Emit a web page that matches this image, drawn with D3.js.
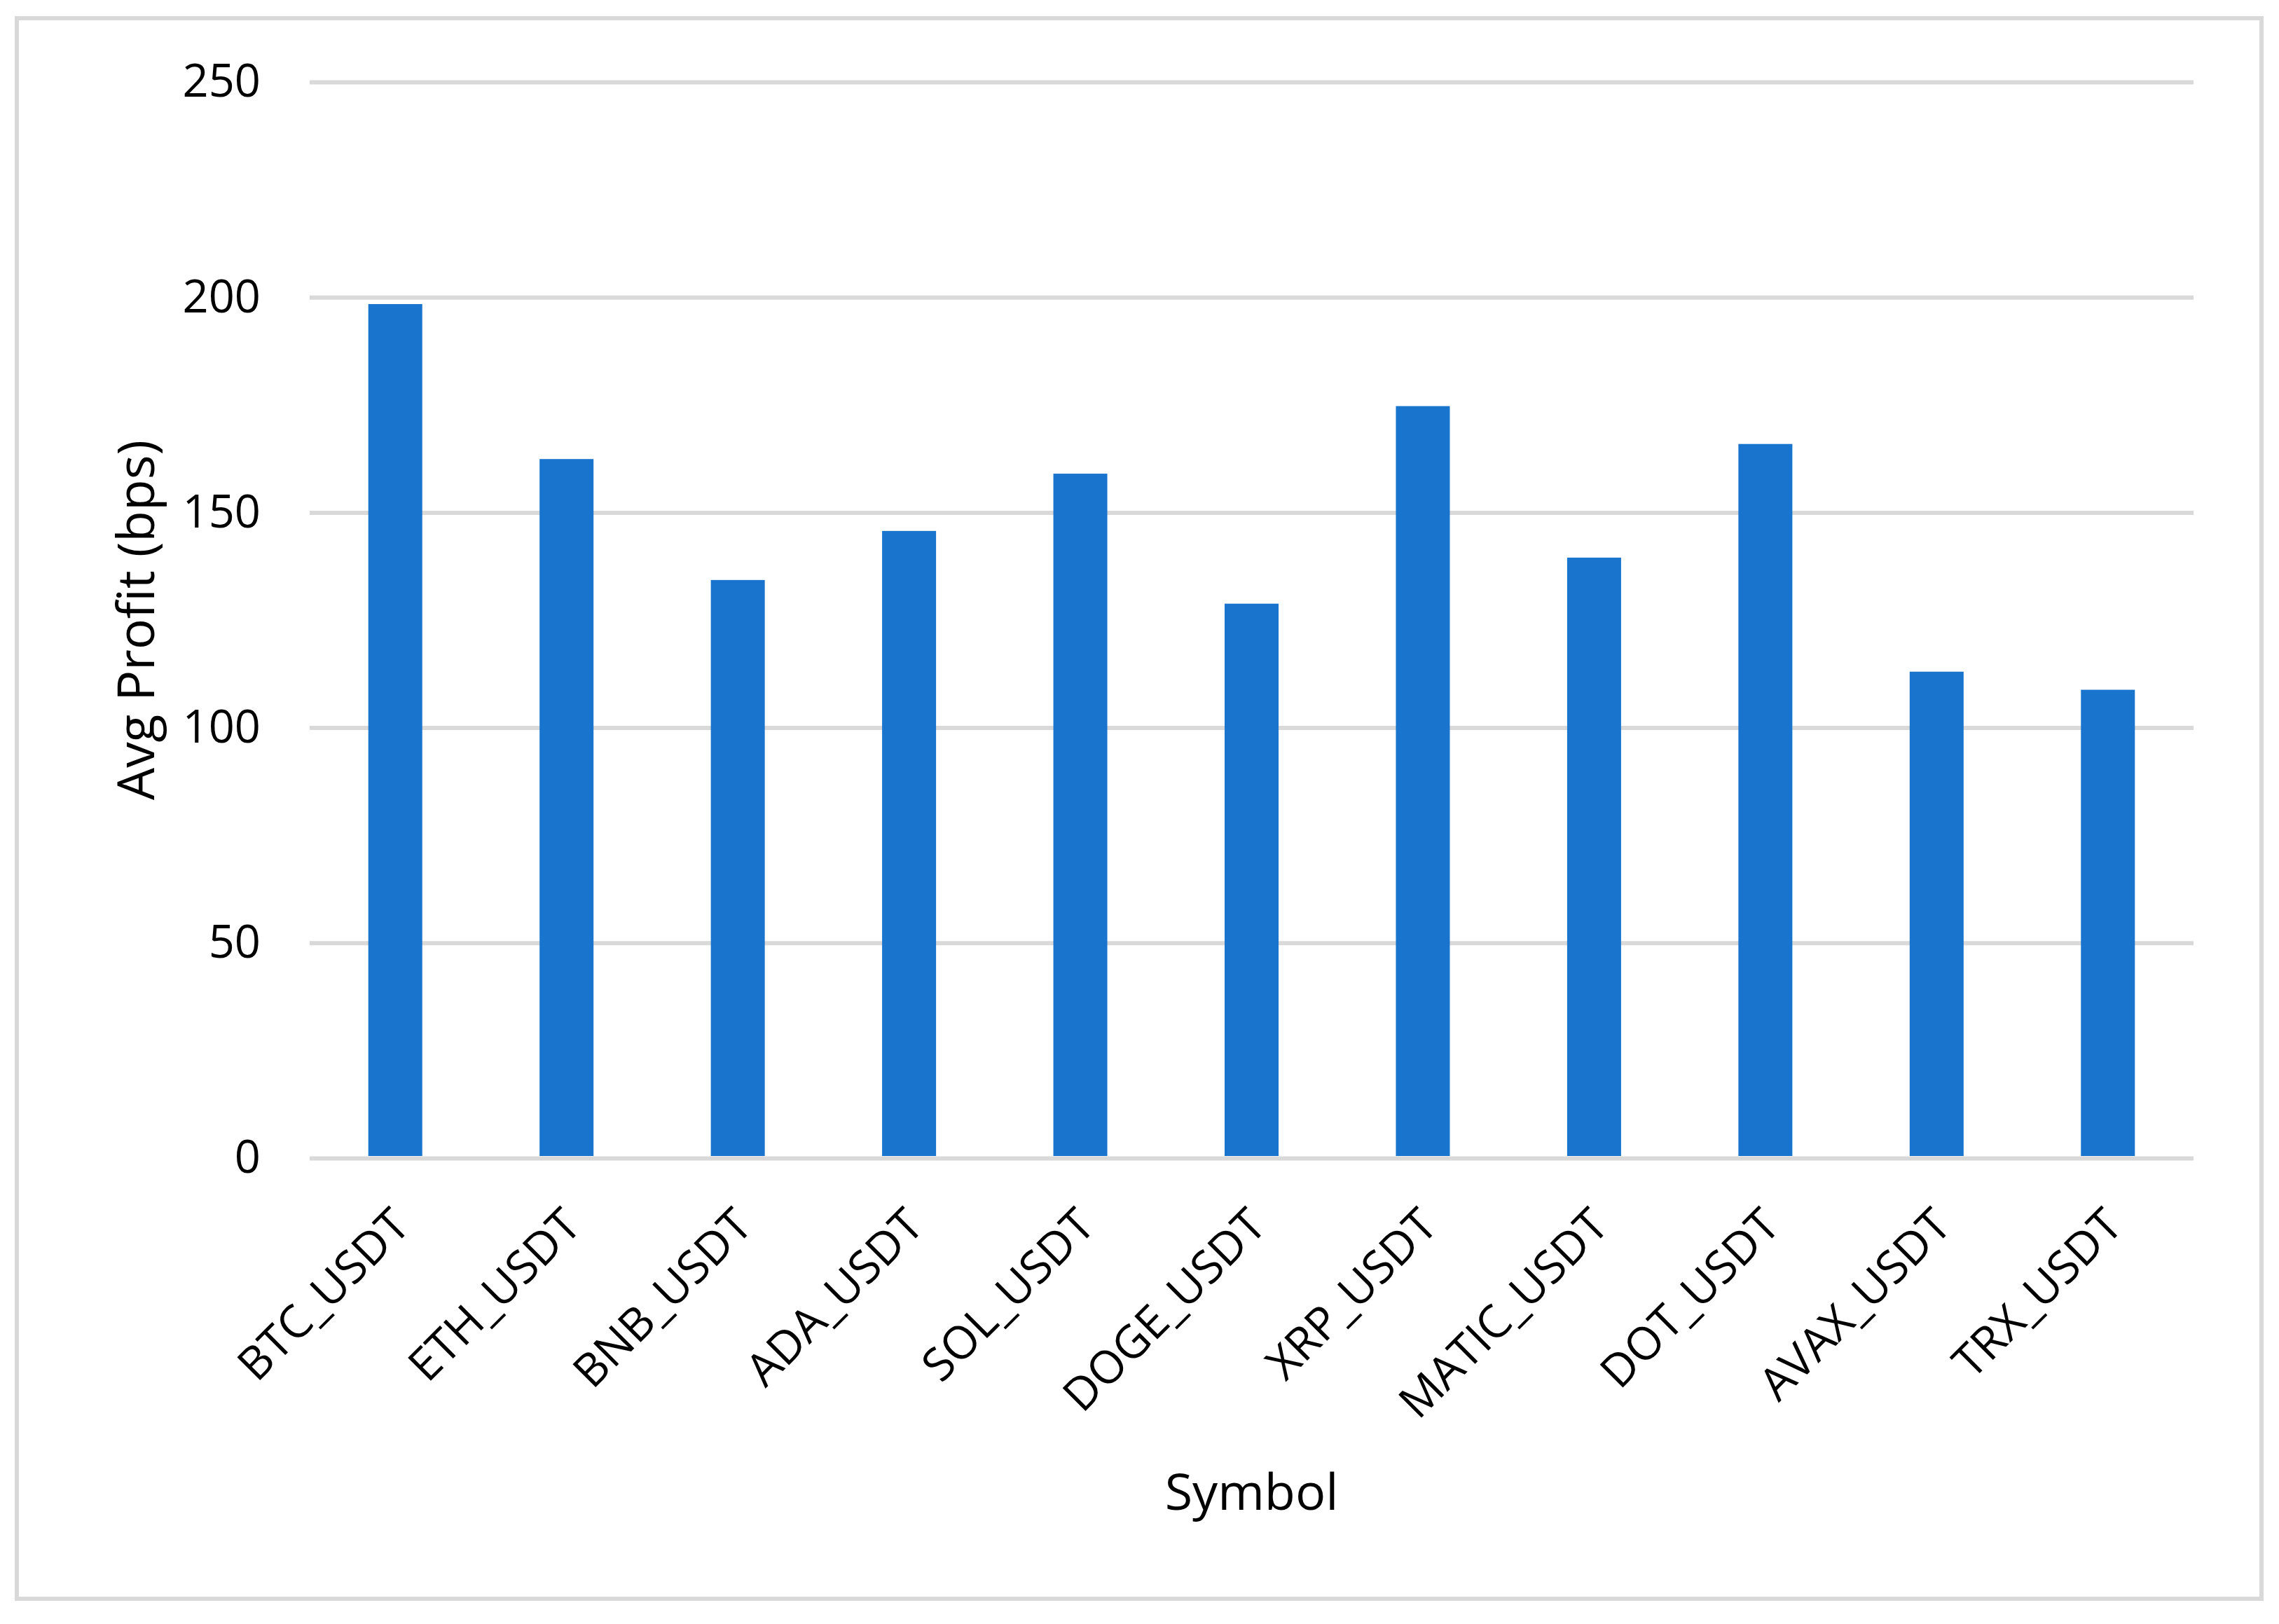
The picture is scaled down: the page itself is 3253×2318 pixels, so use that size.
<!DOCTYPE html>
<html>
<head>
<meta charset="utf-8">
<script src="https://cdn.jsdelivr.net/npm/d3@7"></script>
<style>
  body { margin: 0; background: #fff; }
  text { font-family: "Open Sans", sans-serif; fill: #000; }
</style>
</head>
<body>
<svg class="chart"></svg>
<script>
// data
var symbols = ['BTC_USDT','ETH_USDT','BNB_USDT','ADA_USDT','SOL_USDT','DOGE_USDT',
               'XRP_USDT','MATIC_USDT','DOT_USDT','AVAX_USDT','TRX_USDT'];
var avgProfit = [198.4, 162.4, 134.3, 145.7, 159.0, 128.8, 174.7, 139.5, 165.9, 113.0, 108.8];
var yTicks = [0, 50, 100, 150, 200, 250];

var W = 3253, H = 2318;
var plotLeft = 442, plotRight = 3131, plotTop = 117, plotBottom = 1653;

var svg = d3.select('.chart')
            .attr('width', W)
            .attr('height', H);

svg.append('rect')
   .attr('width', W).attr('height', H)
   .attr('fill', '#fff');

// outer frame
svg.append('rect')
   .attr('x', 24).attr('y', 26)
   .attr('width', 3204).attr('height', 2256)
   .attr('fill', 'none')
   .attr('stroke', '#d9d9d9')
   .attr('stroke-width', 6);

var xScale = d3.scaleBand()
               .domain(symbols)
               .range([plotLeft, plotRight])
               .paddingInner(0.685)
               .paddingOuter(0.3425);

var yScale = d3.scaleLinear()
               .domain([0, 250])
               .range([plotBottom, plotTop]);

// gridlines + y labels
var yAxis = d3.axisLeft(yScale)
              .tickValues(yTicks)
              .tickSize(-(plotRight - plotLeft))
              .tickPadding(70);

var gy = svg.append('g')
            .attr('transform', 'translate(' + plotLeft + ',0)')
            .call(yAxis);
gy.select('.domain').remove();
gy.selectAll('line').attr('stroke', '#d9d9d9').attr('stroke-width', 6);
gy.selectAll('text')
  .style('font-size', '65px')
  .style('font-family', '"Open Sans", sans-serif')
  .attr('fill', '#000');

// bars
svg.selectAll('rect.bar').data(avgProfit)
   .enter()
   .append('rect')
   .attr('class', 'bar')
   .attr('x', (d, i) => xScale(symbols[i]))
   .attr('y', d => yScale(d))
   .attr('width', xScale.bandwidth())
   .attr('height', d => plotBottom - 3 - yScale(d))
   .attr('fill', '#1874cd');

// x labels, rotated
var xAxis = d3.axisBottom(xScale).tickSize(0).tickPadding(0);
var gx = svg.append('g')
            .attr('transform', 'translate(0,' + plotBottom + ')')
            .call(xAxis);
gx.select('.domain').remove();
gx.selectAll('text')
  .style('font-size', '65px')
  .style('font-family', '"Open Sans", sans-serif')
  .attr('fill', '#000')
  .attr('text-anchor', 'end')
  .attr('dy', null)
  .attr('y', 0)
  .attr('transform', 'translate(24,100) rotate(-45)');

svg.append('text')
   .attr('transform', 'rotate(-90)')
   .attr('x', -(plotTop + plotBottom) / 2)
   .attr('y', 220)
   .attr('text-anchor', 'middle')
   .style('font-size', '73px')
   .text('Avg Profit (bps)');

svg.append('text')
   .attr('x', (plotLeft + plotRight) / 2)
   .attr('y', 2155)
   .attr('text-anchor', 'middle')
   .style('font-size', '72px')
   .text('Symbol');
</script>
</body>
</html>
